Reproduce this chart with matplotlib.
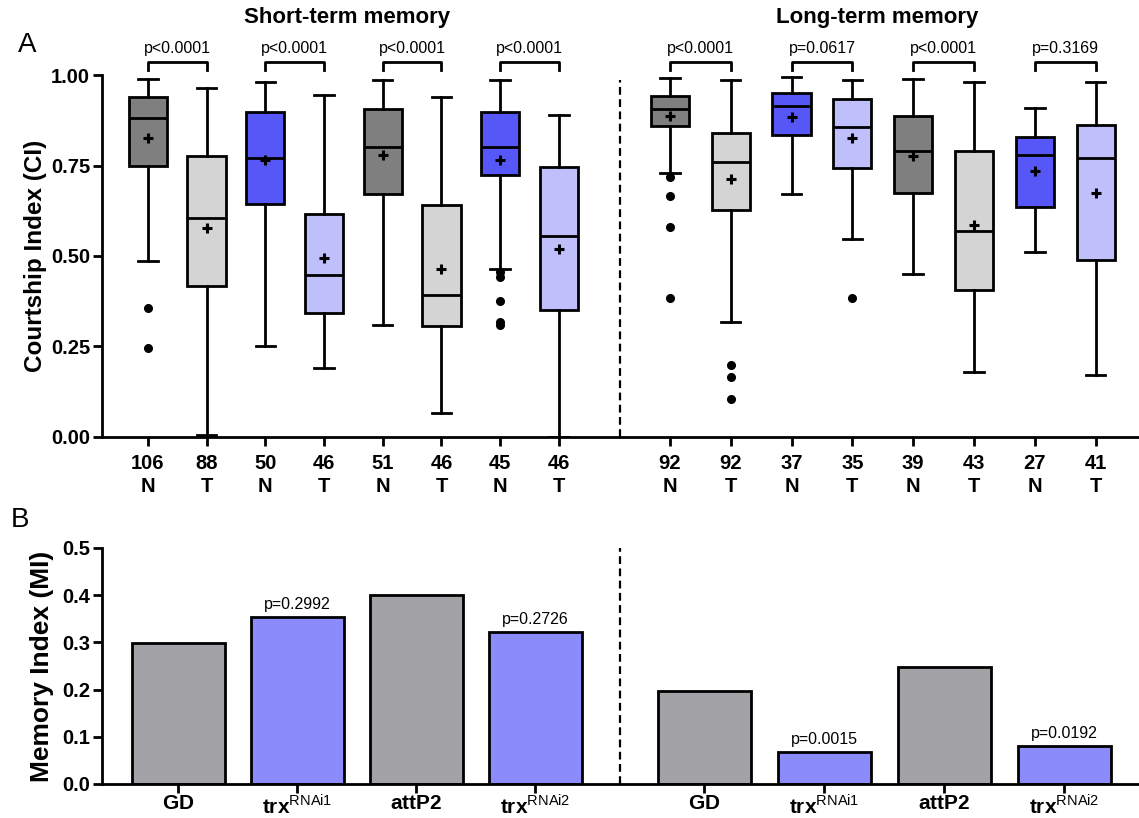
import numpy as np
import matplotlib.pyplot as plt

plt.rcParams['font.family'] = ['Liberation Sans', 'DejaVu Sans']
plt.rcParams['mathtext.fontset'] = 'custom'
plt.rcParams['mathtext.rm'] = 'Liberation Sans'
plt.rcParams['mathtext.bf'] = 'Liberation Sans:bold'

# ---- panel A: courtship index box plots ----
n_counts = ['106', '88', '50', '46', '51', '46', '45', '46',
            '92', '92', '37', '35', '39', '43', '27', '41']
groups = ['N', 'T'] * 8
whis_hi = [0.99, 0.965, 0.98, 0.945, 0.985, 0.94, 0.985, 0.89,
           0.993, 0.985, 0.995, 0.985, 0.99, 0.98, 0.91, 0.98]
q3 = [0.94, 0.775, 0.897, 0.615, 0.905, 0.64, 0.897, 0.745,
      0.943, 0.84, 0.95, 0.935, 0.886, 0.79, 0.83, 0.862]
medians = [0.88, 0.605, 0.77, 0.448, 0.80, 0.392, 0.80, 0.556,
           0.905, 0.76, 0.915, 0.855, 0.79, 0.57, 0.78, 0.77]
means = [0.825, 0.578, 0.765, 0.495, 0.778, 0.465, 0.765, 0.52,
         0.887, 0.712, 0.885, 0.825, 0.775, 0.585, 0.735, 0.675]
q1 = [0.75, 0.418, 0.645, 0.342, 0.67, 0.307, 0.725, 0.35,
      0.86, 0.627, 0.835, 0.742, 0.675, 0.405, 0.635, 0.49]
whis_lo = [0.485, 0.005, 0.25, 0.19, 0.31, 0.065, 0.465, 0.0,
           0.73, 0.317, 0.672, 0.546, 0.45, 0.18, 0.51, 0.17]
outliers = [[0.355, 0.245], [], [], [], [], [], [0.455, 0.442, 0.375, 0.318, 0.308], [],
            [0.718, 0.665, 0.58, 0.385], [0.2, 0.165, 0.105], [], [0.385], [], [], [], []]
box_colors = ['#7f7f7f', '#d4d4d4', '#5757f7', '#bfbffc'] * 4
p_top = ['p<0.0001', 'p<0.0001', 'p<0.0001', 'p<0.0001',
         'p<0.0001', 'p=0.0617', 'p<0.0001', 'p=0.3169']

# ---- panel B: memory index bars ----
bar_labels = [r'$\mathbf{GD}$', r'$\mathbf{trx}^{\mathrm{RNAi1}}$',
              r'$\mathbf{attP2}$', r'$\mathbf{trx}^{\mathrm{RNAi2}}$']
mi_short = [0.298, 0.353, 0.400, 0.321]
mi_long = [0.197, 0.067, 0.248, 0.080]
p_short = ['', 'p=0.2992', '', 'p=0.2726']
p_long = ['', 'p=0.0015', '', 'p=0.0192']
bar_colors = ['#a3a3a7', '#8b8bfb'] * 2

fig = plt.figure(figsize=(11.39, 8.18), dpi=100)
axA = fig.add_axes([0.0896, 0.4658, 0.9104, 0.4425])
axB = fig.add_axes([0.0896, 0.0416, 0.9104, 0.2885])

LW = 2.0

# positions: left block spacing 1, right block slightly wider
pos = list(np.arange(8)) + list(8.89 + 1.036 * np.arange(8))

stats = []
for i in range(16):
    stats.append(dict(med=medians[i], q1=q1[i], q3=q3[i], whislo=whis_lo[i],
                      whishi=whis_hi[i], mean=means[i], fliers=outliers[i]))

bp = axA.bxp(stats, positions=pos, widths=0.65, capwidths=0.33,
             patch_artist=True, showmeans=True,
             boxprops=dict(linewidth=LW, edgecolor='black'),
             medianprops=dict(color='black', linewidth=LW),
             whiskerprops=dict(color='black', linewidth=LW),
             capprops=dict(color='black', linewidth=LW),
             meanprops=dict(marker='+', markeredgecolor='black', markersize=7,
                            markeredgewidth=2.2),
             flierprops=dict(marker='o', markerfacecolor='black',
                             markeredgecolor='black', markersize=5.5))
for patch, c in zip(bp['boxes'], box_colors):
    patch.set_facecolor(c)

for ax in (axA, axB):
    ax.spines['top'].set_visible(False)
    ax.spines['right'].set_visible(False)
    ax.spines['left'].set_linewidth(LW)
    ax.spines['bottom'].set_linewidth(LW)
    ax.tick_params(width=LW, length=6.5)
    ax.tick_params(axis='y', pad=2)

axA.set_xlim(-0.78, 16.88)
axA.set_ylim(0, 1.0)
axA.set_yticks([0, 0.25, 0.5, 0.75, 1.0])
axA.set_yticklabels([f'{v:.2f}' for v in [0, 0.25, 0.5, 0.75, 1.0]],
                    fontsize=14.5, fontweight='bold')
axA.set_xticks(pos)
axA.set_xticklabels([f'{n}\n{g}' for n, g in zip(n_counts, groups)],
                    fontsize=14.5, fontweight='bold', linespacing=1.25)
axA.tick_params(axis='x', pad=6)
axA.set_ylabel('Courtship Index (CI)', fontsize=17.5, fontweight='bold')
axA.yaxis.set_label_coords(-0.053, 0.5)

# significance brackets
for k in range(8):
    x1, x2 = pos[2 * k], pos[2 * k + 1]
    axA.plot([x1, x1, x2, x2], [1.013, 1.036, 1.036, 1.013], color='black',
             lw=LW, clip_on=False)
    axA.text((x1 + x2) / 2, 1.052, p_top[k], ha='center', va='bottom',
             fontsize=11.5)

axA.text(np.mean(pos[:8]) - 0.1, 1.13, 'Short-term memory', ha='center',
         va='bottom', fontsize=16, fontweight='bold')
axA.text(np.mean(pos[8:]) - 0.1, 1.13, 'Long-term memory', ha='center',
         va='bottom', fontsize=16, fontweight='bold')

axA.plot([8.04, 8.04], [0, 0.985], color='black', lw=1.6, ls=(0, (3.5, 2)),
         clip_on=False)

# ---- panel B ----
bpos = list(np.arange(4)) + list(4.42 + 1.008 * np.arange(4))
vals = mi_short + mi_long
ptxt = p_short + p_long
axB.bar(bpos, vals, width=0.78, color=bar_colors * 2, edgecolor='black',
        linewidth=LW)
for x, v, t in zip(bpos, vals, ptxt):
    if t:
        axB.text(x, v + 0.012, t, ha='center', va='bottom', fontsize=11.5)

axB.set_xlim(-0.64, 8.07)
axB.set_ylim(0, 0.5)
axB.set_yticks(np.arange(0, 0.51, 0.1))
axB.set_yticklabels([f'{v:.1f}' for v in np.arange(0, 0.51, 0.1)],
                    fontsize=14.5, fontweight='bold')
axB.set_xticks(bpos)
axB.set_xticklabels(bar_labels * 2, fontsize=15)
axB.tick_params(axis='x', pad=0.5)
axB.set_ylabel('Memory Index (MI)', fontsize=19, fontweight='bold')
axB.yaxis.set_label_coords(-0.046, 0.5)
axB.plot([3.71, 3.71], [0, 0.5], color='black', lw=1.6, ls=(0, (3.5, 2)))

fig.text(0.0237, 0.945, 'A', fontsize=20, ha='center', va='center')
fig.text(0.0176, 0.364, 'B', fontsize=20, ha='center', va='center')

fig.savefig('out.png', dpi=100)
